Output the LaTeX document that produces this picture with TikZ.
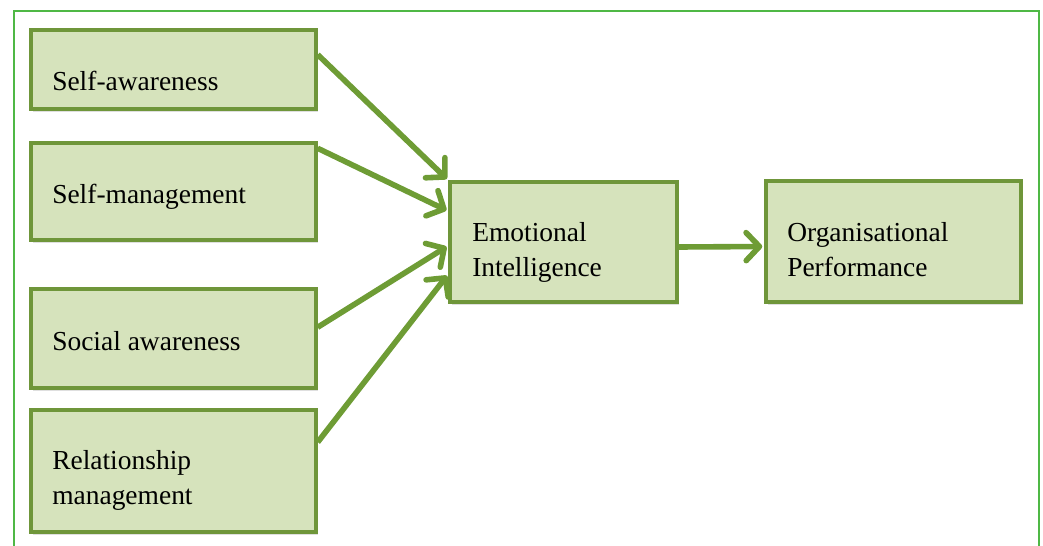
\documentclass[tikz,border=0pt]{standalone}
\usepackage{fontspec}
\setmainfont{Liberation Serif}
\usetikzlibrary{arrows.meta,calc,shadows}
\definecolor{boxfill}{HTML}{D6E3BC}
\definecolor{boxline}{HTML}{6F963A}
\definecolor{arrowgreen}{HTML}{6E9C35}
\definecolor{framegreen}{HTML}{4FB845}
\begin{document}
\begin{tikzpicture}[x=0.75pt,y=-0.75pt,
    box style/.style={draw=boxline,line width=2.6pt,fill=boxfill,inner sep=0pt,
        drop shadow={opacity=0.25,shadow xshift=1.5pt,shadow yshift=-2.5pt}},
    text style/.style={inner sep=0pt,align=left,font=\fontsize{20.6pt}{26.2pt}\selectfont},
    arrow style/.style={draw=arrowgreen,line width=4.2pt,shorten >=1.5pt,
        -{Straight Barb[length=10pt,width=21pt,line cap=round,line join=round]}}]
        \useasboundingbox (0,0) rectangle (1043,546);
        \begin{scope}
            \clip (0,0) rectangle (1043,546);
            \draw[framegreen,line width=1.9pt] (14,11) rectangle (1039,600);
        \end{scope}
        % left column
        \node[box style,minimum width=213.75pt,minimum height=59.25pt] (sa) at (173.5,69.5) {};
        \node[box style,minimum width=213.75pt,minimum height=72.75pt] (sm) at (173.5,191.5) {};
        \node[box style,minimum width=213.75pt,minimum height=74.25pt] (soa) at (173.5,338.5) {};
        \node[box style,minimum width=213.75pt,minimum height=91.5pt] (rm) at (173.5,471) {};
        % middle and right
        \node[box style,minimum width=170.25pt,minimum height=90pt] (ei) at (563.5,242) {};
        \node[box style,minimum width=191.25pt,minimum height=90.75pt] (op) at (893.5,241.5) {};
        \node[text style,anchor=base west] (tsa) at (52,90) {Self-awareness};
        \node[text style,anchor=base west] (tsm) at (52,203) {Self-management};
        \node[text style,anchor=base west] (tsoa) at (52,350) {Social awareness};
        \node[text style,anchor=base west] (trm) at (52,504) {Relationship\\management};
        \node[text style,anchor=base west] (tei) at (472,276) {Emotional\\Intelligence};
        \node[text style,anchor=base west] (top) at (787,276) {Organisational\\Performance};
        % arrows
        \draw[arrow style] ($(sa.north east)!0.32!(sa.south east)$) -- (ei.north west);
        \draw[arrow style] ($(sm.north east)!0.07!(sm.south east)$) -- ($(ei.north west)!0.25!(ei.south west)$);
        \draw[arrow style] ($(soa.north east)!0.39!(soa.south east)$) -- ($(ei.north west)!0.53!(ei.south west)$);
        \draw[arrow style] ($(rm.north east)!0.27!(rm.south east)$) -- ($(ei.north west)!0.76!(ei.south west)$);
        \draw[arrow style] ($(ei.east)+(0,5)$) -- ($(op.west)+(0,5)$);
\end{tikzpicture}
\end{document}
